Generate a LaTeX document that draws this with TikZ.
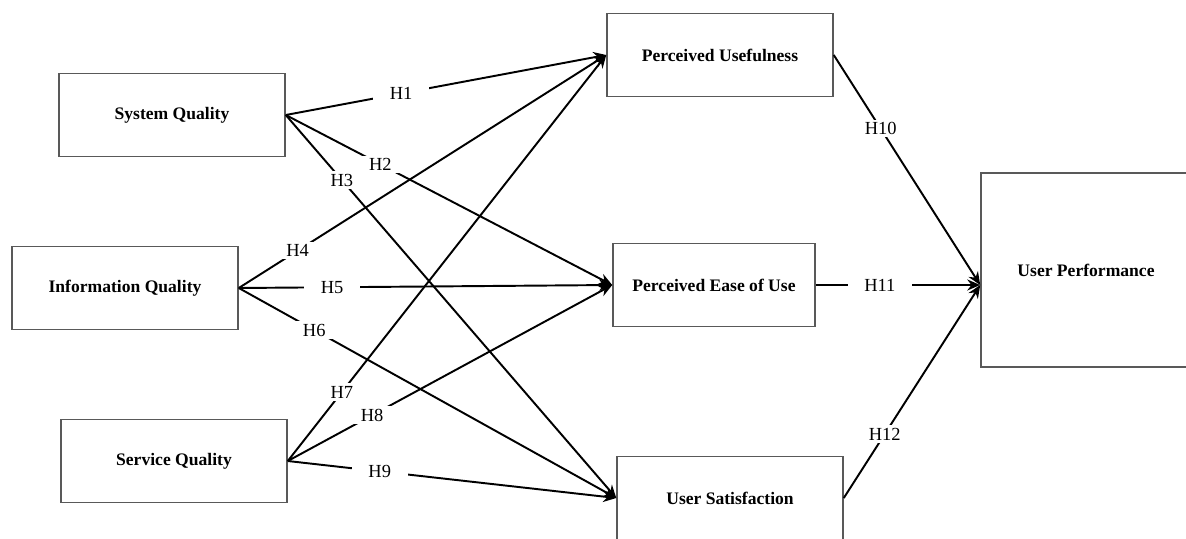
\documentclass[tikz,border=0pt]{standalone}
\usepackage{fontspec}
\setmainfont{Liberation Serif}
\usetikzlibrary{arrows.meta}
\tikzset{
  box/.style={draw=black!65, line width=0.9pt, fill=white, minimum width=4.52cm,
              minimum height=1.66cm, inner sep=0pt, align=center,
              font=\bfseries\fontsize{10}{12}\selectfont},
  ar/.style={-{Stealth[length=2.6mm,width=2.2mm]}, line width=1.1pt, draw=black},
  lbl/.style={fill=white, inner xsep=9.5pt, inner ysep=1.5pt,
              font=\fontsize{10.5}{12}\selectfont},
}

\begin{document}
\begin{tikzpicture}[x=0.02cm, y=-0.02cm]
  \useasboundingbox (0,0) rectangle (1186,538);

  % --- quality constructs ---
  \node[box] (sq)  at (172,115) {System Quality};
  \node[box] (iq)  at (125,288) {Information Quality};
  \node[box] (svq) at (174,461) {Service Quality};

  % --- mediators ---
  \node[box] (pu)   at (720,55)  {Perceived Usefulness};
  \node[box, minimum width=4.04cm] (peou) at (714,285) {Perceived Ease of Use};
  \node[box] (us)   at (730,498) {User Satisfaction};

  % --- outcome ---
  \node[box, minimum width=4.2cm, minimum height=3.88cm] (up) at (1086,270) {User Performance};
  \coordinate (upin) at (up.west |- peou.east);

  \foreach \s/\t/\h/\p in {sq/pu/H1/0.36, sq/peou/H2/0.29, sq/us/H3/0.17,
                           iq/pu/H4/0.16, iq/peou/H5/0.25, iq/us/H6/0.2,
                           svq/pu/H7/0.17, svq/peou/H8/0.26, svq/us/H9/0.28}
    \draw[ar] (\s.east) -- node[lbl, pos=\p] {\h} (\t.west);

  \draw[ar] (pu.east)   -- node[lbl, pos=0.32] {H10} (upin);
  \draw[ar] (peou.east) -- node[lbl, pos=0.39] {H11} (upin);
  \draw[ar] (us.east)   -- node[lbl, pos=0.3]  {H12} (upin);
\end{tikzpicture}
\end{document}
